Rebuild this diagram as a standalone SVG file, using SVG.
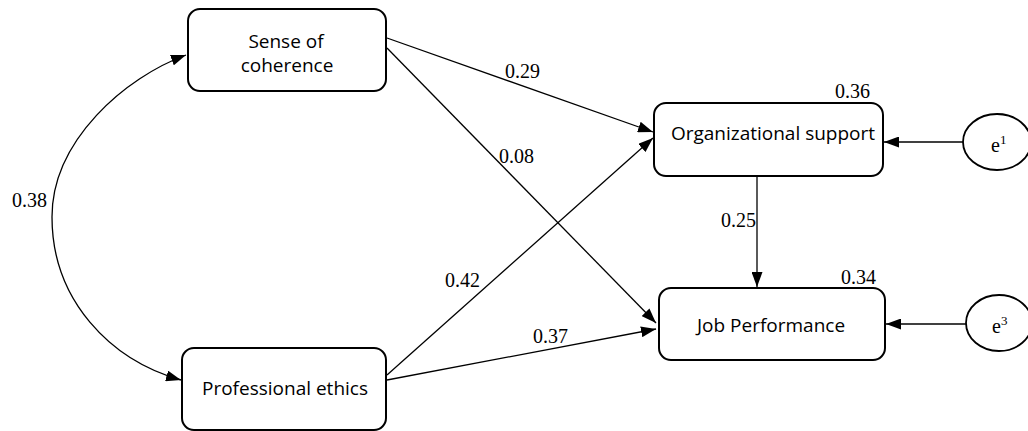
<svg xmlns="http://www.w3.org/2000/svg" width="1028" height="431" viewBox="0 0 1028 431">
<style>
.box{fill:#fff;stroke:#000;stroke-width:2}
.lbl{font-family:"Open Sans","Liberation Sans",sans-serif;font-size:19px;fill:#000;text-anchor:middle}
.num{font-family:"Liberation Serif","Times New Roman",serif;font-size:20px;fill:#000}
.edge{fill:none;stroke:#000;stroke-width:1.3}
.ell{fill:#fff;stroke:#000;stroke-width:1.8}
</style>
<defs>
<marker id="arr" viewBox="0 0 15 11" refX="15" refY="5.5" markerWidth="15" markerHeight="11" markerUnits="userSpaceOnUse" orient="auto-start-reverse">
<path d="M0,0 L15,5.5 L0,11 z" fill="#000"/>
</marker>
</defs>
<rect width="1028" height="431" fill="#fff"/>
<g id="connectors">
<path class="edge" d="M186 55 C126 77 52 140 52 217 C52 300 110 360 181 380" marker-start="url(#arr)" marker-end="url(#arr)"/>
<line class="edge" x1="387" y1="38" x2="653" y2="132" marker-end="url(#arr)"/>
<line class="edge" x1="387" y1="48" x2="656" y2="323" marker-end="url(#arr)"/>
<line class="edge" x1="387" y1="375" x2="653" y2="138" marker-end="url(#arr)"/>
<line class="edge" x1="387" y1="380" x2="656" y2="329" marker-end="url(#arr)"/>
<line class="edge" x1="757" y1="176" x2="757" y2="287" marker-end="url(#arr)"/>
<line class="edge" x1="963" y1="142" x2="884" y2="142" marker-end="url(#arr)"/>
<line class="edge" x1="966" y1="324" x2="886" y2="324" marker-end="url(#arr)"/>
<text class="num" x="12" y="207">0.38</text>
<text class="num" x="505" y="78">0.29</text>
<text class="num" x="499" y="163">0.08</text>
<text class="num" x="445" y="287">0.42</text>
<text class="num" x="533" y="343">0.37</text>
<text class="num" x="721" y="227">0.25</text>
</g>
<g id="sense-of-coherence">
<rect class="box" x="188" y="9" width="198" height="82" rx="12"/>
<text class="lbl" x="286" y="48">Sense of</text>
<text class="lbl" x="287" y="72">coherence</text>
</g>
<g id="professional-ethics">
<rect class="box" x="182" y="348" width="204" height="82" rx="12"/>
<text class="lbl" x="285" y="395">Professional ethics</text>
</g>
<g id="organizational-support">
<rect class="box" x="654" y="103" width="229" height="73" rx="12"/>
<text class="lbl" x="773" y="140">Organizational support</text>
<text class="num" x="835" y="98">0.36</text>
</g>
<g id="job-performance">
<rect class="box" x="659" y="288" width="226" height="72" rx="12"/>
<text class="lbl" x="771" y="332">Job Performance</text>
<text class="num" x="841" y="284">0.34</text>
</g>
<g id="e1">
<ellipse class="ell" cx="997" cy="142" rx="34" ry="28"/>
<text class="num" x="991" y="152">e<tspan font-size="13" dy="-8">1</tspan></text>
</g>
<g id="e3">
<ellipse class="ell" cx="999" cy="323" rx="33" ry="28"/>
<text class="num" x="992" y="333">e<tspan font-size="13" dy="-8">3</tspan></text>
</g>
</svg>
